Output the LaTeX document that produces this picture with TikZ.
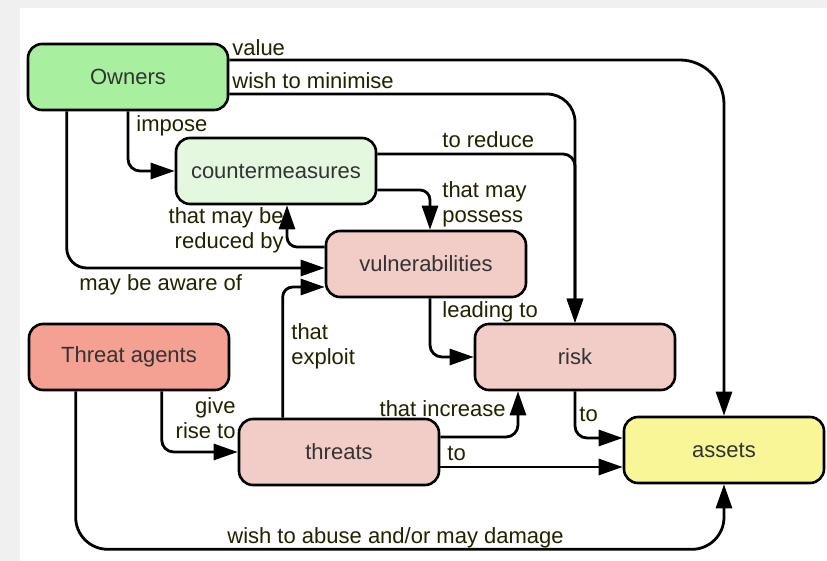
\documentclass[tikz,border=0pt]{standalone}
\usepackage{fontspec}
\setmainfont{Liberation Sans}
\usetikzlibrary{calc}
\usetikzlibrary{arrows.meta}

\definecolor{ownergreen}{RGB}{168,240,160}
\definecolor{cmgreen}{RGB}{228,248,224}
\definecolor{riskpink}{RGB}{242,205,200}
\definecolor{agentred}{RGB}{244,160,146}
\definecolor{assetyellow}{RGB}{248,246,150}
\definecolor{labelink}{RGB}{34,34,0}

\tikzset{
	box/.style={draw=black, line width=1.3pt, rounded corners=7pt, minimum width=100pt, minimum height=33pt, text=black!80, font=\fontsize{11}{13}\selectfont},
	lbl/.style={text=labelink, inner sep=0pt, font=\fontsize{11}{12.5}\selectfont},
	link/.style={line width=1.4pt, -{Triangle[length=12pt,width=8pt]}}
}

\begin{document}
\begin{tikzpicture}[x=0.5pt, y=-0.5pt]
\useasboundingbox (0,0) rectangle (827,561);
\fill[black!6] (0,0) rectangle (827,561);
\fill[white] (20,8) rectangle (827,561);

% concepts
\node[box, fill=ownergreen] (owners) at (128,77) {Owners};
\node[box, fill=cmgreen] (cm) at (276,171) {countermeasures};
\node[box, fill=riskpink] (vuln) at (426,264) {vulnerabilities};
\node[box, fill=agentred] (agents) at (129,357) {Threat agents};
\node[box, fill=riskpink] (risk) at (575,357) {risk};
\node[box, fill=riskpink] (threats) at (339,452) {threats};
\node[box, fill=assetyellow] (assets) at (724,450) {assets};

% relations
\draw[link, rounded corners=22pt] ($(owners.east)+(0,-17)$) -| (assets.north);
\draw[link, rounded corners=14pt] ($(owners.east)+(0,17)$) -| (risk.north);
\draw[link, rounded corners=6pt] (owners.south) |- (cm.west);
\draw[link, rounded corners=6pt] ($(cm.east)+(0,-17)$) -| (risk.north);
\draw[link, rounded corners=5pt] ($(cm.east)+(0,19)$) -| ($(vuln.north)+(4,0)$);
\draw[link, rounded corners=5pt] ($(vuln.west)+(0,-17)$) -| ($(cm.south)+(11,0)$);
\draw[link, rounded corners=10pt] ($(owners.south west)+(40,0)$) |- ($(vuln.west)+(0,4)$);
\draw[link, rounded corners=5pt] ($(threats.north west)+(45,0)$) |- ($(vuln.west)+(0,23)$);
\draw[link, rounded corners=6pt] ($(vuln.south)+(4,0)$) |- (risk.west);
\draw[link, rounded corners=6pt] ($(agents.south west)+(134,0)$) |- (threats.west);
\draw[link, rounded corners=6pt] ($(threats.east)+(0,-15)$) -| ($(risk.south)+(-57,0)$);
\coordinate (tout) at ($(threats.east)+(0,15)$);
\draw[link] (tout) -- (tout -| assets.west);
\draw[link, rounded corners=6pt] (risk.south) |- ($(assets.west)+(0,-12)$);
\draw[link, rounded corners=16pt] ($(agents.south west)+(48,0)$) |- ($(assets.south)+(0,65)$) [rounded corners=6pt] -- (assets.south);

% relation labels
\node[lbl, anchor=west] (l-value) at (232,48) {value};
\node[lbl, anchor=west] (l-minimise) at (232,81) {wish to minimise};
\node[lbl, anchor=west] (l-impose) at (136,126) {impose};
\node[lbl, anchor=west] (l-reduce) at (442,140) {to reduce};
\node[lbl, anchor=west, align=left] (l-possess) at (442,204) {that may\\possess};
\node[lbl, anchor=east, align=right] (l-reducedby) at (284,230) {that may be\\reduced by};
\node[lbl, anchor=west] (l-aware) at (79,285) {may be aware of};
\node[lbl, anchor=west, align=left] (l-exploit) at (291,346) {that\\exploit};
\node[lbl, anchor=west] (l-leading) at (442,312) {leading to};
\node[lbl, anchor=east, align=right] (l-rise) at (236,418) {give\\rise to};
\node[lbl, anchor=east] (l-increase) at (506,409) {that increase};
\node[lbl, anchor=west] (l-to1) at (447,453) {to};
\node[lbl, anchor=west] (l-to2) at (579,415) {to};
\node[lbl, anchor=west] (l-abuse) at (227,538) {wish to abuse and/or may damage};
\end{tikzpicture}
\end{document}
